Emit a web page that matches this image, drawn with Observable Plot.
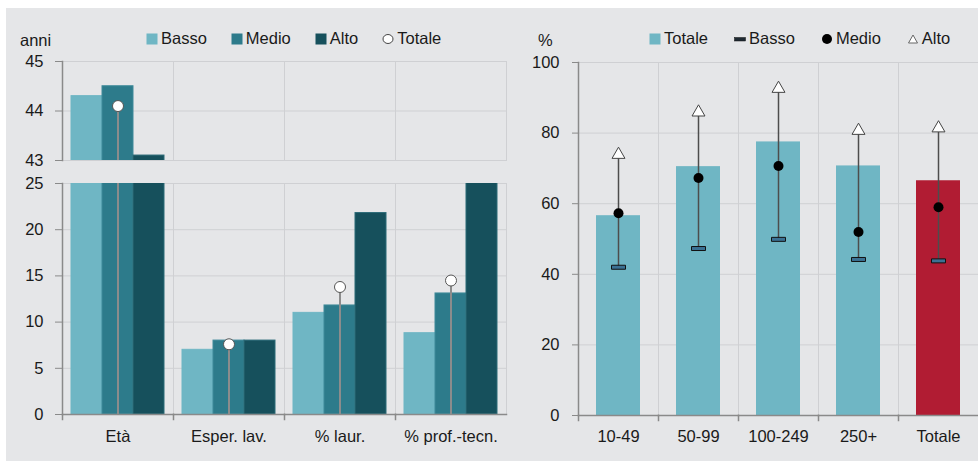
<!DOCTYPE html>
<html>
<head>
<meta charset="utf-8">
<script src="https://cdn.jsdelivr.net/npm/d3@7"></script>
<script src="https://cdn.jsdelivr.net/npm/@observablehq/plot@0.6"></script>
<style>
  body { margin: 0; background: #ffffff; font-family: "Liberation Sans", Arial, sans-serif; }
  #wrap { position: relative; width: 978px; height: 462px; overflow: hidden; }
  #bg { position: absolute; left: 6px; top: 8px; width: 972px; height: 453px; background: #e5e6e8; }
  .abs { position: absolute; }
  .legend { position: absolute; display: flex; align-items: center; font-size: 16.5px; color: #1a1a1a; white-space: nowrap; }
  .legend .item { display: flex; align-items: center; }
  .legend svg { margin-right: 3px; }
  .unit { position: absolute; font-size: 16.5px; color: #1a1a1a; }
</style>
</head>
<body>
<div id="wrap"><div id="bg"></div></div>
<script>
// ---------- data: left panel ----------
const leftCats = ["Età", "Esper. lav.", "% laur.", "% prof.-tecn."];
const levels = ["Basso", "Medio", "Alto"];
const bassoL  = [44.3, 7.0, 11.0, 8.8];
const medioL  = [44.5, 8.0, 11.8, 13.1];
const altoL   = [43.1, 8.0, 21.8, 25.1];
const totaleL = [44.1, 7.6, 13.8, 14.5];
const leftTopTicks = [43, 44, 45];
const leftBottomTicks = [0, 5, 10, 15, 20, 25];

// ---------- data: right panel ----------
const rightCats = ["10-49", "50-99", "100-249", "250+", "Totale"];
const totaleR = [56.6, 70.5, 77.5, 70.7, 66.5];
const bassoR  = [42.0, 47.3, 49.9, 44.2, 43.8];
const medioR  = [57.3, 67.3, 70.7, 52.0, 59.0];
const altoR   = [73.9, 85.9, 92.6, 80.7, 81.4];
const rightTicks = [0, 20, 40, 60, 80, 100];

// ---------- styles ----------
const levelColors = ["#6fb6c4", "#2d7b8b", "#16505c"];
const levelStrokes = ["#6fb6c4", "#3f8a99", "#2a6a77"];
const teal = "#6fb6c4", red = "#b11c33";
const gridColor = "#cfd0d3", axisColor = "#8a8a8a", textColor = "#1a1a1a";
const font = "Liberation Sans, Arial, sans-serif";
const intFmt = d3.format("d");

const leftData = leftCats.flatMap((c, i) =>
  levels.map((l, j) => ({cat: c, level: l, value: [bassoL, medioL, altoL][j][i]})));
const leftTot = leftCats.map((c, i) => ({cat: c, tot: totaleL[i]}));
const rightData = rightCats.map((c, i) => ({cat: c, totale: totaleR[i], basso: bassoR[i], medio: medioR[i], alto: altoR[i]}));

const wrap = document.getElementById("wrap");
function place(el, left, top) {
  el.classList.add("abs");
  el.style.left = left + "px";
  el.style.top = top + "px";
  wrap.appendChild(el);
}

function leftPlot({domain, ticks, height, marginTop, marginBottom, bottom}) {
  const innerH = height - marginTop - marginBottom;
  const marks = [
    Plot.gridY(ticks, {stroke: gridColor, strokeOpacity: 1}),
    Plot.frame({stroke: gridColor, strokeOpacity: 1}),
    Plot.barY(leftData, {fx: "cat", x: "level", y: "value", fill: "level",
      stroke: d => levelStrokes[levels.indexOf(d.level)], strokeWidth: 1, clip: true}),
    Plot.ruleX(leftTot, {fx: "cat", x: () => "Medio", y1: 0, y2: "tot", stroke: "#8c8c8c", strokeWidth: 2, clip: true}),
    Plot.dot(leftTot, {fx: "cat", x: () => "Medio", y: "tot", r: 5.5, fill: "white", stroke: "#555", strokeWidth: 1, clip: true}),
    Plot.axisY(ticks, {tickSize: 7, tickPadding: 12, tickFormat: intFmt, stroke: axisColor, fill: textColor, fontSize: 16.5}),
    Plot.frame({anchor: "left", facetAnchor: "left", stroke: axisColor, strokeWidth: 1.5})
  ];
  if (bottom) {
    marks.push(
      Plot.frame({anchor: "bottom", stroke: axisColor, strokeWidth: 1.5}),
      Plot.frame({anchor: "left", stroke: axisColor, strokeWidth: 1.5, insetTop: innerH, insetBottom: -5}),
      Plot.axisFx({anchor: "bottom", tickSize: 0, tickPadding: 16, fill: textColor, fontSize: 16.5, label: null})
    );
  }
  return Plot.plot({
    width: 510, height, marginLeft: 62, marginRight: 4, marginTop, marginBottom,
    style: {background: "transparent", fontFamily: font, fontSize: "16.5px", color: textColor, overflow: "visible"},
    fx: {domain: leftCats, padding: 0, label: null, axis: null},
    x: {domain: levels, paddingInner: 0, paddingOuter: 0.29, axis: null},
    y: {domain, label: null, axis: null},
    color: {domain: levels, range: levelColors},
    marks
  });
}

place(leftPlot({domain: [43, 45], ticks: leftTopTicks, height: 120, marginTop: 11, marginBottom: 10, bottom: false}), 0, 50);
place(leftPlot({domain: [0, 25], ticks: leftBottomTicks, height: 292, marginTop: 13, marginBottom: 48, bottom: true}), 0, 170);

// ---------- right panel ----------
const dash = {draw(ctx) { ctx.rect(-7, -2, 14, 4); }};
const rH = 412, rTop = 12, rBottom = 47;
const rightPlot = Plot.plot({
  width: 458, height: rH, marginLeft: 58, marginRight: 0, marginTop: rTop, marginBottom: rBottom,
  style: {background: "transparent", fontFamily: font, fontSize: "16.5px", color: textColor, overflow: "visible"},
  fx: {domain: rightCats, padding: 0, label: null, axis: null},
  x: {domain: ["t"], padding: 0.29, axis: null},
  y: {domain: [0, 100], label: null, axis: null},
  marks: [
    Plot.gridY(rightTicks, {stroke: gridColor, strokeOpacity: 1}),
    Plot.frame({stroke: gridColor, strokeOpacity: 1}),
    Plot.barY(rightData, {fx: "cat", x: () => "t", y: "totale", fill: d => d.cat === "Totale" ? red : teal}),
    Plot.ruleX(rightData, {fx: "cat", x: () => "t", y1: "basso", y2: "alto", stroke: "#4d4d4d", strokeWidth: 1.5}),
    Plot.dot(rightData, {fx: "cat", x: () => "t", y: "basso", symbol: dash, fill: "#3b7193", stroke: "#111", strokeWidth: 1}),
    Plot.dot(rightData, {fx: "cat", x: () => "t", y: "medio", r: 5, fill: "#000", stroke: "none"}),
    Plot.dot(rightData, {fx: "cat", x: () => "t", y: "alto", symbol: "triangle", r: 4.8, fill: "white", stroke: "#444", strokeWidth: 1}),
    Plot.axisY(rightTicks, {tickSize: 6, tickPadding: 13, tickFormat: intFmt, stroke: axisColor, fill: textColor, fontSize: 16.5}),
    Plot.frame({anchor: "left", facetAnchor: "left", stroke: axisColor, strokeWidth: 1.5}),
    Plot.frame({anchor: "bottom", stroke: axisColor, strokeWidth: 1.5}),
    Plot.frame({anchor: "left", stroke: axisColor, strokeWidth: 1.5, insetTop: rH - rTop - rBottom, insetBottom: -5}),
    Plot.axisFx({anchor: "bottom", tickSize: 0, tickPadding: 15, fill: textColor, fontSize: 16.5, label: null})
  ]
});
place(rightPlot, 520, 50);

// ---------- legends ----------
function swatch(kind, color) {
  const ns = "http://www.w3.org/2000/svg";
  const s = document.createElementNS(ns, "svg");
  s.setAttribute("width", 12); s.setAttribute("height", 12);
  let el;
  if (kind === "square") {
    el = document.createElementNS(ns, "rect");
    el.setAttribute("x", 0.5); el.setAttribute("y", 0.5); el.setAttribute("width", 11); el.setAttribute("height", 11);
    el.setAttribute("fill", color);
  } else if (kind === "circle") {
    el = document.createElementNS(ns, "ellipse");
    el.setAttribute("cx", 6); el.setAttribute("cy", 6); el.setAttribute("rx", 5); el.setAttribute("ry", 4.5);
    el.setAttribute("fill", "white"); el.setAttribute("stroke", "#444");
  } else if (kind === "dash") {
    el = document.createElementNS(ns, "rect");
    el.setAttribute("x", 0.5); el.setAttribute("y", 4.5); el.setAttribute("width", 11); el.setAttribute("height", 3.5);
    el.setAttribute("fill", "#1f2a33"); el.setAttribute("stroke", "#111"); el.setAttribute("stroke-width", 0.5);
  } else if (kind === "dot") {
    el = document.createElementNS(ns, "circle");
    el.setAttribute("cx", 6); el.setAttribute("cy", 6); el.setAttribute("r", 5);
    el.setAttribute("fill", "#000");
  } else {
    el = document.createElementNS(ns, "path");
    el.setAttribute("d", "M6,2 L10.5,10 L1.5,10 Z");
    el.setAttribute("fill", "white"); el.setAttribute("stroke", "#666");
  }
  s.appendChild(el);
  return s;
}
function legend(items, left, gap) {
  const d = document.createElement("div");
  d.className = "legend";
  d.style.left = left + "px"; d.style.top = "29px"; d.style.gap = gap + "px";
  items.forEach(([label, kind, color]) => {
    const it = document.createElement("div");
    it.className = "item";
    it.appendChild(swatch(kind, color));
    const t = document.createElement("span"); t.textContent = label;
    it.appendChild(t);
    d.appendChild(it);
  });
  wrap.appendChild(d);
}
const leftLegend = [["Basso", "square", levelColors[0]], ["Medio", "square", levelColors[1]], ["Alto", "square", levelColors[2]], ["Totale", "circle", null]];
const rightLegend = [["Totale", "square", teal], ["Basso", "dash", null], ["Medio", "dot", null], ["Alto", "triangle", null]];
legend(leftLegend, 146, 24);
legend(rightLegend, 649, 26);

function unit(text, left, top) {
  const d = document.createElement("div");
  d.className = "unit"; d.textContent = text;
  d.style.left = left + "px"; d.style.top = top + "px";
  wrap.appendChild(d);
}
unit("anni", 20, 31);
unit("%", 538, 31);
</script>
</body>
</html>
